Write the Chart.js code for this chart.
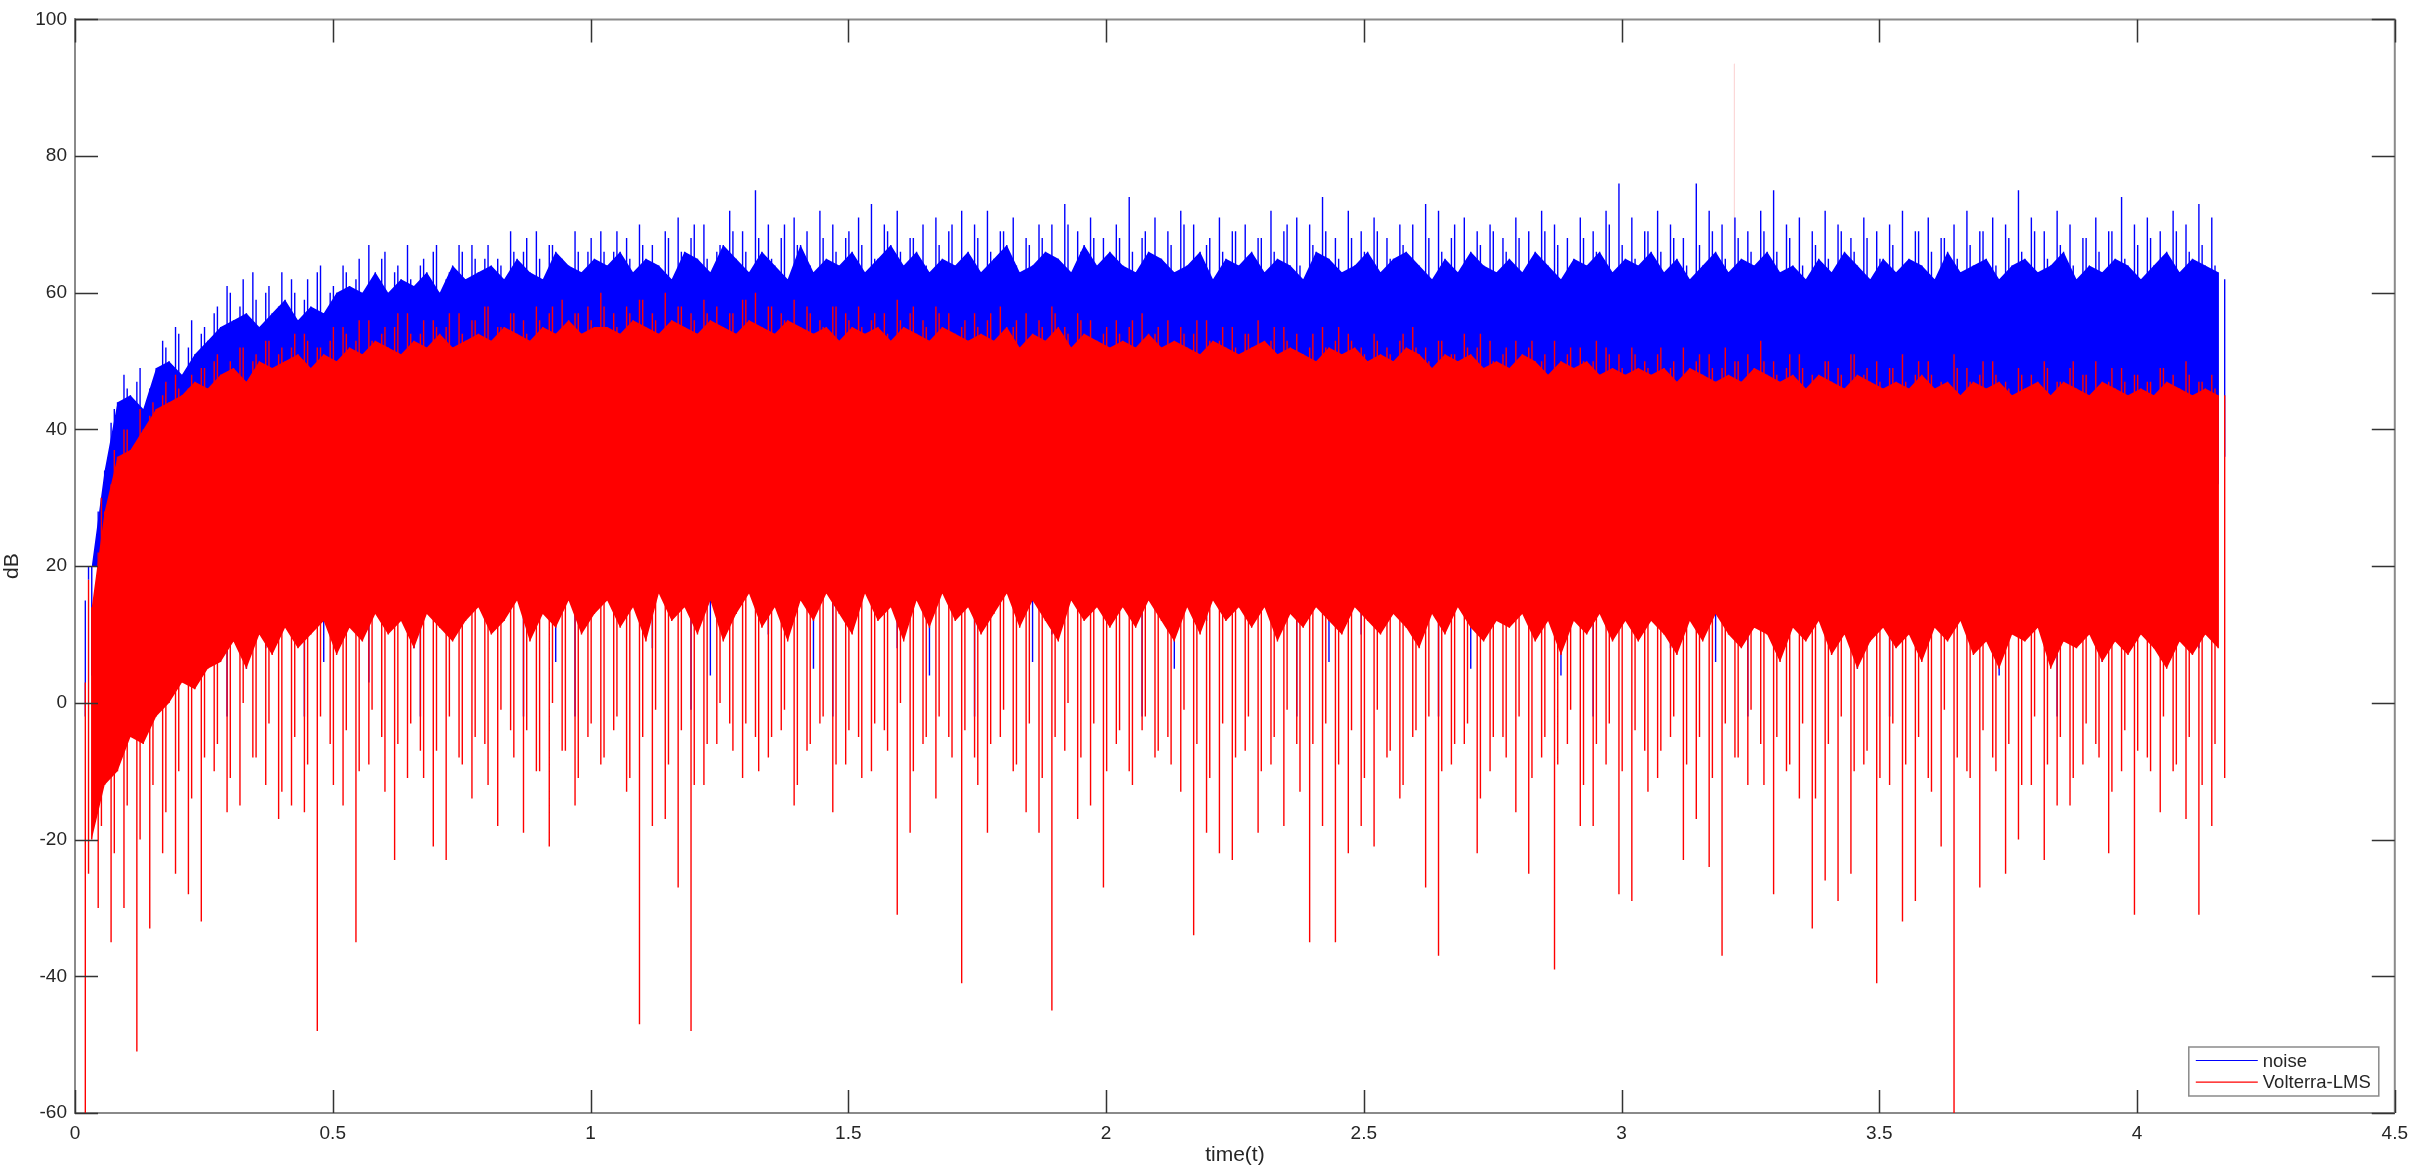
<!DOCTYPE html>
<html>
<head>
<meta charset="utf-8">
<title>noise vs Volterra-LMS</title>
<script src="https://cdn.jsdelivr.net/npm/chart.js"></script>
<style>
  html, body { margin: 0; padding: 0; background: #fff; }
  #wrap { width: 2417px; height: 1174px; }
</style>
</head>
<body>
<div id="wrap"><canvas id="dbChart" width="2417" height="1174"></canvas></div>
<script>
// ====== DATA ======
// sample extremes: "peak" samples start at 0.02 s, every 0.025 s;
// "minor" samples sit half way between two peaks and mark where each trace
// stops being a solid block; "extra" samples sit between a peak and a minor
const sampleStart = 0.02;
const sampleStep = 0.0125;

const noisePeakTop = [
  15, 28, 41, 48, 47, 46, 53, 55, 52, 54,
  57, 61, 58, 63, 60, 58, 62, 59, 63, 60,
  64, 62, 67, 65, 63, 67, 64, 66, 62, 67,
  67, 65, 65, 69, 66, 69, 67, 65, 69, 66,
  69, 66, 68, 70, 67, 69, 71, 68, 70, 66,
  72, 69, 75, 70, 68, 71, 69, 72, 70, 68,
  71, 73, 70, 72, 68, 70, 71, 69, 72, 70,
  72, 69, 71, 68, 70, 70, 73, 69, 71, 68,
  70, 74, 68, 71, 69, 72, 70, 67, 71, 69,
  70, 68, 72, 69, 71, 70, 74, 68, 72, 69,
  71, 68, 70, 70, 73, 72, 68, 71, 69, 70,
  68, 71, 69, 72, 70, 68, 71, 69, 72, 76,
  71, 69, 72, 70, 68, 76, 72, 70, 71, 69,
  72, 75, 70, 71, 69, 72, 70, 68, 71, 69,
  70, 72, 69, 71, 68, 70, 72, 69, 71, 70,
  75, 71, 69, 72, 70, 68, 71, 69, 74, 70,
  71, 69, 72, 70, 73, 71, 62
];
const noiseMinorTop = [
  20, 34, 44, 45, 43, 49, 50, 48, 51, 53,
  55, 56, 57, 55, 57, 59, 56, 58, 57, 60,
  61, 60, 63, 60, 62, 61, 63, 60, 64, 62,
  63, 64, 62, 65, 63, 62, 66, 64, 63, 65,
  64, 66, 63, 65, 64, 62, 66, 65, 63, 67,
  65, 63, 66, 64, 62, 67, 63, 65, 64, 66,
  63, 65, 67, 64, 66, 63, 65, 64, 66, 63,
  65, 67, 63, 64, 66, 65, 63, 67, 64, 66,
  64, 63, 66, 65, 63, 64, 66, 62, 65, 64,
  66, 63, 65, 64, 62, 66, 65, 63, 64, 66,
  63, 65, 66, 64, 62, 65, 63, 66, 64, 63,
  65, 63, 66, 64, 62, 65, 64, 66, 63, 65,
  64, 66, 63, 65, 62, 64, 66, 63, 65, 64,
  66, 63, 64, 62, 65, 63, 66, 64, 62, 65,
  63, 65, 64, 62, 66, 63, 64, 65, 62, 64,
  65, 63, 64, 66, 62, 64, 63, 65, 64, 62,
  64, 66, 63, 65, 64, 63
];
const noiseExtraTop = [
  18, 30, 43, 46, 49, 47, 52, 54, 56, 55,
  58, 60, 62, 59, 61, 63, 60, 62, 64, 61,
  63, 65, 62, 66, 64, 62, 65, 67, 63, 66,
  65, 67, 64, 66, 68, 65, 67, 64, 66, 68,
  66, 69, 65, 67, 64, 68, 66, 70, 65, 67,
  69, 66, 68, 65, 70, 67, 64, 68, 66, 69,
  67, 65, 69, 66, 68, 64, 67, 70, 65, 68,
  66, 69, 64, 67, 68, 65, 70, 66, 68, 65,
  68, 66, 69, 64, 67, 70, 65, 68, 66, 69,
  65, 68, 66, 70, 64, 67, 69, 65, 68, 66,
  69, 65, 67, 64, 68, 66, 70, 65, 67, 69,
  66, 68, 65, 69, 67, 64, 68, 66, 70, 67,
  65, 69, 66, 68, 64, 67, 69, 65, 68, 66,
  69, 66, 68, 64, 67, 65, 69, 66, 68, 65,
  67, 64, 69, 66, 68, 65, 67, 69, 64, 68,
  66, 69, 65, 67, 64, 68, 66, 69, 65, 67,
  68, 65, 69, 66, 67, 64
];
const noisePeakBottom = [
  -2, 2, 5, 8, -2, 12, 14, 6, 18, 20,
  22, -2, 24, 26, 8, 27, 28, -2, 29, 30,
  31, 30, 3, 32, 31, 30, -2, 33, 32, 31,
  33, 34, 12, 33, -2, 32, 35, 34, -2, 34,
  35, 33, 34, 36, 8, 34, 35, -1, 34, 36,
  35, 34, 36, 10, 35, 33, 36, 34, -2, 35,
  34, 36, 35, 8, 34, 35, 36, 34, 35, -2,
  35, 34, 36, 35, 33, 10, 35, 34, 36, 35,
  34, 35, -2, 34, 36, 35, 34, 12, 35, 34,
  35, 33, 34, 36, -2, 35, 34, 33, 35, 10,
  34, 35, 33, 34, 35, -2, 34, 33, 35, 34,
  33, 14, 34, 35, 33, 34, 35, -2, 34, 33,
  34, 33, 35, 8, 34, 33, 35, 34, 33, -2,
  33, 34, 32, 34, 12, 33, 34, 32, 33, 34,
  -2, 33, 32, 34, 33, 31, 10, 33, 32, 34,
  32, 33, 31, -2, 33, 32, 34, 31, 33, 12,
  32, 33, 31, 34, 8, 32, 36
];
const noiseMinorBottom = [
  4, 8, 10, 14, 10, 16, 15, 20, 22, 24,
  26, 27, 5, 29, 30, 28, 31, 30, 6, 32,
  31, 33, 32, 30, 34, 8, 33, 32, 34, 31,
  34, 33, 35, 32, 34, 33, 6, 35, 33, 34,
  33, 35, 34, 32, 35, 34, 33, 35, 4, 34,
  35, 33, 34, 35, 32, 34, 5, 33, 35, 34,
  33, 35, 34, 32, 35, 4, 34, 33, 35, 34,
  34, 33, 35, 6, 34, 33, 35, 34, 32, 35,
  33, 35, 34, 32, 5, 34, 33, 35, 34, 32,
  34, 33, 35, 32, 34, 33, 6, 34, 32, 35,
  33, 34, 32, 35, 33, 34, 32, 5, 33, 34,
  32, 34, 33, 35, 4, 33, 34, 32, 33, 34,
  33, 32, 34, 33, 35, 32, 6, 33, 34, 32,
  33, 34, 32, 33, 31, 34, 32, 5, 33, 32,
  34, 32, 31, 33, 32, 34, 33, 31, 4, 33,
  32, 31, 33, 32, 34, 31, 6, 32, 33, 31,
  33, 32, 30, 33, 31, 32
];
// lower edge the solid blue block and extra blue strokes reach (hidden under red)
const noiseFloor = 20;

const lmsPeakTop = [
  3, 22, 32, 40, 38, 42, 45, 48, 46, 49,
  50, 48, 52, 50, 53, 51, 52, 54, 52, 53,
  55, 53, 56, 54, 55, 57, 54, 56, 55, 57,
  56, 58, 55, 57, 56, 58, 57, 59, 57, 58,
  60, 57, 58, 59, 57, 60, 58, 57, 59, 58,
  57, 59, 60, 58, 57, 59, 58, 56, 58, 57,
  58, 56, 57, 59, 57, 56, 58, 57, 55, 57,
  56, 58, 55, 57, 56, 58, 55, 57, 56, 54,
  56, 55, 57, 54, 56, 55, 54, 56, 53, 55,
  54, 56, 53, 55, 54, 52, 55, 53, 54, 52,
  54, 52, 53, 55, 52, 53, 51, 54, 52, 53,
  51, 53, 52, 50, 53, 51, 52, 50, 52, 51,
  52, 50, 51, 49, 52, 50, 51, 49, 50, 51,
  53, 50, 49, 51, 48, 50, 49, 51, 48, 50,
  49, 51, 48, 50, 47, 51, 49, 48, 50, 47,
  49, 48, 50, 47, 49, 48, 50, 47, 49, 48,
  47, 49, 48, 50, 47, 48, 45
];
const lmsMinorTop = [
  14, 28, 36, 37, 40, 43, 44, 45, 47, 46,
  48, 49, 47, 50, 49, 50, 51, 49, 51, 50,
  52, 51, 53, 52, 51, 53, 52, 54, 52, 53,
  54, 53, 55, 54, 53, 55, 54, 56, 54, 55,
  55, 54, 56, 55, 54, 56, 55, 54, 56, 55,
  54, 56, 55, 54, 56, 55, 54, 55, 53, 55,
  54, 55, 53, 55, 54, 53, 55, 54, 53, 54,
  53, 55, 52, 54, 53, 55, 52, 54, 53, 52,
  53, 52, 54, 52, 53, 52, 51, 53, 52, 51,
  52, 53, 51, 52, 51, 50, 52, 51, 52, 50,
  51, 50, 52, 51, 49, 51, 50, 51, 49, 50,
  49, 51, 50, 48, 50, 49, 50, 48, 49, 48,
  49, 48, 49, 47, 49, 48, 47, 48, 47, 49,
  48, 47, 48, 46, 48, 47, 46, 48, 47, 46,
  47, 46, 48, 46, 47, 45, 47, 46, 47, 45,
  46, 47, 45, 47, 46, 45, 47, 46, 45, 46,
  45, 47, 46, 45, 46, 45
];
const lmsExtraTop = [
  18, 30, 37, 40, 43, 44, 47, 46, 48, 49,
  51, 50, 52, 51, 53, 52, 54, 53, 52, 55,
  54, 56, 53, 55, 57, 54, 56, 55, 57, 54,
  56, 58, 55, 57, 54, 56, 58, 55, 57, 56,
  58, 55, 57, 59, 56, 54, 58, 56, 57, 55,
  57, 59, 55, 58, 56, 54, 57, 55, 58, 56,
  55, 57, 54, 56, 58, 55, 57, 54, 56, 55,
  57, 54, 56, 53, 55, 57, 54, 56, 53, 55,
  54, 56, 53, 55, 52, 54, 56, 53, 55, 52,
  54, 52, 55, 53, 51, 54, 52, 55, 53, 51,
  53, 51, 54, 52, 50, 53, 51, 52, 54, 50,
  52, 50, 53, 51, 49, 52, 50, 53, 51, 49,
  51, 49, 52, 50, 48, 51, 49, 52, 50, 48,
  50, 48, 51, 49, 47, 50, 48, 51, 49, 47,
  49, 47, 50, 48, 46, 49, 47, 50, 48, 46,
  48, 46, 49, 47, 50, 48, 46, 49, 47, 48,
  47, 49, 46, 48, 47, 46
];
const lmsPeakBottom = [
  -60, -30, -35, -30, -51, -33, -22, -25, -28, -32,
  -10, -16, -15, -8, -12, -17, -15, -16, -48, -6,
  -15, -35, -9, -5, -23, -11, -7, -21, -23, -8,
  -14, -6, -18, -4, -19, -10, -21, -7, -15, -5,
  -9, -4, -13, -47, -18, -17, -27, -48, -12, -6,
  -3, -11, -5, -8, -4, -15, -7, -3, -16, -9,
  -5, -10, -4, -31, -19, -6, -14, -5, -41, -8,
  -19, -5, -10, -16, -19, -45, -7, -17, -15, -27,
  -6, -10, -4, -8, -5, -13, -34, -19, -22, -23,
  -7, -19, -9, -18, -6, -35, -18, -35, -22, -18,
  -21, -8, -14, -5, -27, -37, -9, -6, -22, -10,
  -5, -16, -25, -8, -39, -6, -18, -18, -9, -28,
  -29, -7, -11, -5, -23, -17, -24, -37, -8, -12,
  -6, -28, -10, -14, -33, -26, -29, -25, -9, -41,
  -12, -32, -29, -11, -21, -65, -10, -27, -8, -25,
  -20, -12, -23, -15, -15, -9, -6, -22, -10, -31,
  -8, -16, -10, -17, -31, -18, -11
];
const lmsMinorBottom = [
  -20, -12, -10, -5, -6, -2, 0, 3, 2, 5,
  6, 9, 5, 10, 7, 11, 8, 10, 12, 7,
  11, 9, 13, 10, 12, 8, 13, 11, 9, 12,
  14, 10, 12, 15, 9, 13, 11, 15, 10, 13,
  15, 11, 14, 9, 16, 12, 14, 10, 15, 9,
  13, 16, 11, 14, 9, 15, 12, 16, 13, 10,
  16, 12, 14, 9, 15, 11, 16, 12, 14, 10,
  13, 16, 11, 15, 12, 9, 15, 12, 14, 11,
  14, 11, 15, 12, 9, 14, 10, 15, 12, 14,
  11, 14, 9, 13, 11, 14, 12, 10, 14, 12,
  10, 13, 11, 8, 13, 10, 14, 11, 9, 12,
  11, 13, 9, 12, 7, 12, 10, 13, 9, 12,
  9, 12, 10, 7, 12, 9, 13, 10, 8, 11,
  10, 6, 11, 9, 12, 7, 10, 5, 9, 11,
  8, 10, 6, 11, 9, 12, 7, 9, 5, 10,
  9, 11, 5, 9, 8, 10, 6, 9, 7, 10,
  8, 5, 9, 7, 10, 8
];
const lmsExtraBottom = [
  -25, -18, -22, -15, -20, -12, -16, -10, -14, -8,
  -6, -11, 0, -8, -3, -13, -5, -9, -2, -12,
  -4, -10, -1, -13, -6, -3, -11, -7, -2, -9,
  -5, -12, -1, -8, -4, -10, 0, -7, -11, -3,
  -8, -2, -11, -5, -1, -9, -4, -12, -6, 0,
  -7, -3, -10, -5, -1, -12, -6, -2, -9, -4,
  -11, -3, -7, 0, -10, -5, -2, -8, -4, -12,
  -6, -1, -9, -3, -11, -5, 0, -8, -3, -10,
  -4, -12, -2, -7, -9, -1, -6, -11, -3, -8,
  -2, -10, -5, -1, -13, -6, -3, -9, -4, -11,
  -1, -7, -12, -4, -2, -10, -6, -3, -14, -5,
  -8, -2, -11, -5, -9, -1, -12, -6, -3, -10,
  -4, -13, -7, -2, -9, -5, -11, -3, -8, -1,
  -12, -5, -9, -3, -14, -6, -2, -10, -7, -11,
  -3, -9, -5, -13, -1, -8, -11, -4, -10, -6,
  -12, -2, -9, -5, -11, -3, -8, -13, -4, -7,
  -10, -2, -9, -5, -12, -6
];

// single faint outlier of the Volterra-LMS trace
const faintTimes = [3.219];
const faintTop = [93.5];
const faintBottom = [60];

// axes
const xTickValues = [0, 0.5, 1, 1.5, 2, 2.5, 3, 3.5, 4, 4.5];
const yTickValues = [-60, -40, -20, 0, 20, 40, 60, 80, 100];
const legendItems = [
  { label: "noise", color: "#0000ff" },
  { label: "Volterra-LMS", color: "#ff0000" }
];

// ====== HELPERS ======
const FONT = "'Liberation Sans', Arial, Helvetica, sans-serif";

const peakTimes = noisePeakTop.map((_, i) => +(sampleStart + 2 * i * sampleStep).toFixed(5));
const minorTimes = noiseMinorTop.map((_, i) => +(sampleStart + (2 * i + 1) * sampleStep).toFixed(5));
const extraTimes = noiseExtraTop.map((_, i) => +(sampleStart + (2 * i + 0.5) * sampleStep).toFixed(5));

function toPoints(times, values) {
  return times.map((t, i) => ({ x: t, y: values[i] }));
}

// one vertical stroke per sample, from its top to its bottom value
// (bottom may be an array or a single level)
function strokes(times, top, bottom) {
  const pts = [];
  times.forEach((t, i) => {
    pts.push({ x: t, y: top[i] });
    pts.push({ x: t, y: Array.isArray(bottom) ? bottom[i] : bottom });
    pts.push({ x: t, y: null });
  });
  return pts;
}

// ====== MATLAB-LIKE BOX, INNER TICKS, LEGEND ======
const matlabAxes = {
  id: "matlabAxes",
  afterDraw(chart) {
    const { ctx, chartArea: a, scales } = chart;
    const tickLen = 23;
    ctx.save();

    // top + right box lines
    ctx.strokeStyle = "#8a8a8a";
    ctx.lineWidth = 2;
    ctx.beginPath();
    ctx.moveTo(a.left, a.top);
    ctx.lineTo(a.right, a.top);
    ctx.lineTo(a.right, a.bottom);
    ctx.stroke();

    // tick marks pointing inward on all four sides
    ctx.strokeStyle = "#333333";
    ctx.lineWidth = 1.5;
    ctx.beginPath();
    xTickValues.forEach((v) => {
      const px = Math.round(scales.x.getPixelForValue(v)) + 0.5;
      ctx.moveTo(px, a.bottom); ctx.lineTo(px, a.bottom - tickLen);
      ctx.moveTo(px, a.top); ctx.lineTo(px, a.top + tickLen);
    });
    yTickValues.forEach((v) => {
      const py = Math.round(scales.y.getPixelForValue(v)) + 0.5;
      ctx.moveTo(a.left, py); ctx.lineTo(a.left + tickLen, py);
      ctx.moveTo(a.right, py); ctx.lineTo(a.right - tickLen, py);
    });
    ctx.stroke();

    // legend box (bottom right, inside the axes)
    const w = 190, h = 49;
    const x0 = a.right - 16 - w;
    const y0 = a.bottom - 17 - h;
    ctx.fillStyle = "#ffffff";
    ctx.fillRect(x0, y0, w, h);
    ctx.strokeStyle = "#8a8a8a";
    ctx.lineWidth = 1.5;
    ctx.strokeRect(x0, y0, w, h);
    ctx.font = "18.5px " + FONT;
    ctx.textBaseline = "middle";
    ctx.textAlign = "left";
    legendItems.forEach((item, i) => {
      const ly = y0 + 13.5 + i * 21.7;
      ctx.strokeStyle = item.color;
      ctx.lineWidth = 1.2;
      ctx.beginPath();
      ctx.moveTo(x0 + 7, ly);
      ctx.lineTo(x0 + 69, ly);
      ctx.stroke();
      ctx.fillStyle = "#262626";
      ctx.fillText(item.label, x0 + 74, ly + 1);
    });
    ctx.restore();
  }
};

// ====== CHART ======
function renderChart() {
  const ctx = document.getElementById("dbChart").getContext("2d");

  // lower `order` is drawn on top
  const datasets = [
    /* 0 */ {
      label: "Volterra-LMS",
      data: strokes(peakTimes, lmsPeakTop, lmsPeakBottom)
        .concat(strokes(minorTimes, lmsMinorTop, lmsMinorBottom))
        .concat(strokes(extraTimes, lmsExtraTop, lmsExtraBottom)),
      borderColor: "#ff0000",
      borderWidth: 1.4,
      spanGaps: false,
      fill: false,
      order: 0
    },
    /* 1 */ {
      label: "Volterra-LMS solid top",
      data: toPoints(minorTimes, lmsMinorTop),
      borderWidth: 0,
      borderColor: "rgba(0,0,0,0)",
      backgroundColor: "#ff0000",
      fill: 2,
      order: 1
    },
    /* 2 */ {
      label: "Volterra-LMS solid bottom",
      data: toPoints(minorTimes, lmsMinorBottom),
      borderWidth: 0,
      borderColor: "rgba(0,0,0,0)",
      fill: false,
      order: 1
    },
    /* 3 */ {
      label: "noise",
      data: strokes(peakTimes, noisePeakTop, noisePeakBottom)
        .concat(strokes(minorTimes, noiseMinorTop, noiseMinorBottom))
        .concat(strokes(extraTimes, noiseExtraTop, noiseFloor)),
      borderColor: "#0000ff",
      borderWidth: 1.4,
      spanGaps: false,
      fill: false,
      order: 2
    },
    /* 4 */ {
      label: "noise solid top",
      data: toPoints(minorTimes, noiseMinorTop),
      borderWidth: 0,
      borderColor: "rgba(0,0,0,0)",
      backgroundColor: "#0000ff",
      fill: { value: noiseFloor },
      order: 3
    },
    /* 5 */ {
      label: "Volterra-LMS outlier",
      data: strokes(faintTimes, faintTop, faintBottom),
      borderColor: "#fbd9d9",
      borderWidth: 1,
      fill: false,
      order: 4
    }
  ];

  new Chart(ctx, {
    type: "line",
    data: { datasets: datasets },
    options: {
      responsive: false,
      animation: false,
      events: [],
      layout: { padding: { top: 10, right: 18, left: 0, bottom: 0 } },
      elements: { point: { radius: 0 }, line: { tension: 0 } },
      plugins: {
        legend: { display: false },
        tooltip: { enabled: false },
        filler: { propagate: false }
      },
      scales: {
        x: {
          type: "linear",
          min: 0,
          max: 4.5,
          grid: { display: false, drawTicks: false },
          border: { display: true, color: "#8a8a8a", width: 2 },
          afterBuildTicks: (scale) => { scale.ticks = xTickValues.map((v) => ({ value: v })); },
          ticks: {
            color: "#262626",
            padding: 9,
            maxRotation: 0,
            autoSkip: false,
            font: { family: FONT, size: 19 },
            callback: (value) => String(value)
          },
          title: {
            display: true,
            text: "time(t)",
            color: "#262626",
            font: { family: FONT, size: 21 },
            padding: { top: 0, bottom: 6 }
          },
          afterFit: (scale) => { scale.height = 61; }
        },
        y: {
          min: -60,
          max: 100,
          grid: { display: false, drawTicks: false },
          border: { display: true, color: "#8a8a8a", width: 2 },
          afterBuildTicks: (scale) => { scale.ticks = yTickValues.map((v) => ({ value: v })); },
          ticks: {
            color: "#262626",
            padding: 8,
            font: { family: FONT, size: 19 },
            callback: (value) => String(value)
          },
          title: {
            display: true,
            text: "dB",
            color: "#262626",
            font: { family: FONT, size: 21 },
            padding: { top: 0, bottom: 0 }
          },
          afterFit: (scale) => { scale.width = 75; }
        }
      }
    },
    plugins: [matlabAxes]
  });
}

document.addEventListener("DOMContentLoaded", renderChart);
</script>
</body>
</html>
